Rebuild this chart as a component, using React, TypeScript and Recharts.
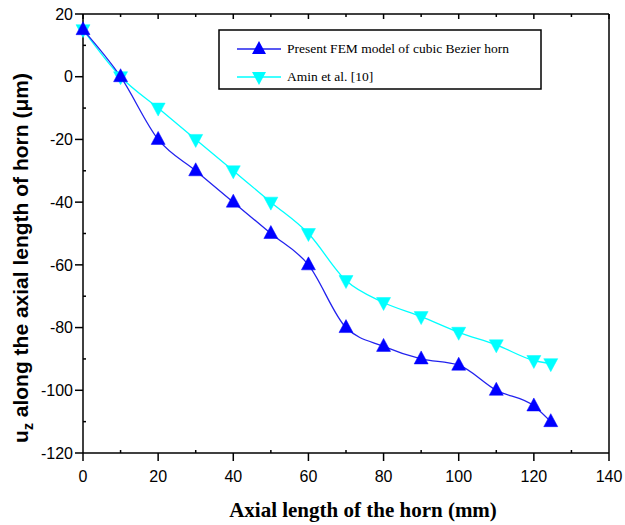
import React from 'react';
import { LineChart, Line, XAxis, YAxis } from 'recharts';

const axialPositions = [0, 10, 20, 30, 40, 50, 60, 70, 80, 90, 100, 110, 120, 124.5];
const femValues = [15, 0, -20, -30, -40, -50, -60, -80, -86, -90, -92, -100, -105, -110];
const aminValues = [15, 0, -10, -20, -30, -40, -50, -65, -72, -76.5, -81.5, -85.5, -90.5, -91.5];

const xTicks = [0, 10, 20, 30, 40, 50, 60, 70, 80, 90, 100, 110, 120, 130, 140];
const yTicks = [20, 10, 0, -10, -20, -30, -40, -50, -60, -70, -80, -90, -100, -110, -120];

const femName = 'Present FEM model of cubic Bezier horn';
const aminName = 'Amin et al. [10]';

const FEM_COLOR = '#0000ff';
const FEM_LINE = '#2222ee';
const AMIN_COLOR = '#00ffff';

const data = axialPositions.map((x, i) => ({ x, fem: femValues[i], amin: aminValues[i] }));

const SANS = "'Liberation Sans', Arial, sans-serif";
const SERIF = "'Liberation Serif', 'Times New Roman', serif";

const isMajor = (v: number) => Math.abs(v % 20) < 1e-9;

const LeftTick = (props: any) => {
  const { x, y, payload } = props;
  const major = isMajor(payload.value);
  return (
    <g>
      <line x1={x} x2={major ? x - 8 : x + 3} y1={y} y2={y} stroke="#000" strokeWidth={1.5} />
      {major && (
        <text x={x - 10} y={y} dy="0.36em" textAnchor="end" fontFamily={SANS} fontSize={16} fill="#000">
          {payload.value}
        </text>
      )}
    </g>
  );
};

const BottomTick = (props: any) => {
  const { x, y, payload } = props;
  const major = isMajor(payload.value);
  return (
    <g>
      <line x1={x} x2={x} y1={y} y2={major ? y + 8 : y - 3} stroke="#000" strokeWidth={1.5} />
      {major && (
        <text x={x} y={y + 29} textAnchor="middle" fontFamily={SANS} fontSize={16} fill="#000">
          {payload.value}
        </text>
      )}
    </g>
  );
};

const TopTick = (props: any) => {
  const { x, y, payload } = props;
  const major = isMajor(payload.value);
  return <line x1={x} x2={x} y1={y} y2={y + (major ? 5 : 3)} stroke="#000" strokeWidth={1.5} />;
};

const RightTick = (props: any) => {
  const { x, y, payload } = props;
  const major = isMajor(payload.value);
  return <line x1={x} x2={x - (major ? 5 : 3)} y1={y} y2={y} stroke="#000" strokeWidth={1.5} />;
};

const TriUp = (props: any) => {
  const { cx, cy } = props;
  if (cx == null || cy == null) return null;
  return <path d={`M${cx},${cy - 8} L${cx + 7},${cy + 5} L${cx - 7},${cy + 5} Z`} fill={FEM_COLOR} stroke={FEM_COLOR} strokeWidth={0.5} />;
};

const TriDown = (props: any) => {
  const { cx, cy } = props;
  if (cx == null || cy == null) return null;
  return <path d={`M${cx},${cy + 8} L${cx + 7},${cy - 5} L${cx - 7},${cy - 5} Z`} fill={AMIN_COLOR} stroke={AMIN_COLOR} strokeWidth={0.5} />;
};

const LegendBox = () => {
  const left = 219;
  const top = 30;
  const rows = [
    { name: femName, color: FEM_LINE, fill: FEM_COLOR, up: true, y: top + 19 },
    { name: aminName, color: AMIN_COLOR, fill: AMIN_COLOR, up: false, y: top + 47 },
  ];
  return (
    <g>
      <rect x={left} y={top} width={322} height={59} fill="#fff" stroke="#000" strokeWidth={1.5} />
      {rows.map((r) => {
        const mx = left + 40;
        return (
          <g key={r.name}>
            <line x1={left + 18} x2={left + 62} y1={r.y} y2={r.y} stroke={r.color} strokeWidth={1.5} />
            {r.up ? (
              <path d={`M${mx},${r.y - 8} L${mx + 7},${r.y + 5} L${mx - 7},${r.y + 5} Z`} fill={r.fill} />
            ) : (
              <path d={`M${mx},${r.y + 8} L${mx + 7},${r.y - 5} L${mx - 7},${r.y - 5} Z`} fill={r.fill} />
            )}
            <text x={left + 68} y={r.y} dy="0.33em" fontFamily={SERIF} fontSize={13.5} fill="#000">
              {r.name}
            </text>
          </g>
        );
      })}
    </g>
  );
};

const YLabel = () => (
  <text
    x={28}
    y={258}
    transform="rotate(-90 28 258)"
    textAnchor="middle"
    fontFamily={SANS}
    fontWeight="bold"
    fontSize={21}
    fill="#000"
  >
    u<tspan fontSize={14} dy={5}>z</tspan>
    <tspan dy={-5}> along the axial length of horn  (μm)</tspan>
  </text>
);

const XLabel = () => (
  <text x={363} y={517} textAnchor="middle" fontFamily={SERIF} fontWeight="bold" fontSize={21} fill="#000">
    Axial length of the horn (mm)
  </text>
);

export default function App() {
  const axisLine = { stroke: '#000', strokeWidth: 1.5 };
  return (
    <div style={{ position: 'absolute', left: 0, top: 0, background: '#fff' }}>
      <LineChart width={625} height={525} data={data} margin={{ top: 0, right: 0, bottom: 0, left: 0 }}>
        <XAxis
          dataKey="x"
          type="number"
          domain={[0, 140]}
          ticks={xTicks}
          interval={0}
          height={72}
          tickSize={0}
          tickMargin={0}
          tickLine={false}
          axisLine={axisLine}
          tick={<BottomTick />}
        />
        <XAxis
          xAxisId="top"
          orientation="top"
          dataKey="x"
          type="number"
          domain={[0, 140]}
          ticks={xTicks}
          interval={0}
          height={14}
          tickSize={0}
          tickMargin={0}
          tickLine={false}
          axisLine={axisLine}
          tick={<TopTick />}
        />
        <YAxis
          type="number"
          domain={[-120, 20]}
          ticks={yTicks}
          interval={0}
          width={83}
          tickSize={0}
          tickMargin={0}
          tickLine={false}
          axisLine={axisLine}
          tick={<LeftTick />}
        />
        <YAxis
          yAxisId="right"
          orientation="right"
          type="number"
          domain={[-120, 20]}
          ticks={yTicks}
          interval={0}
          width={16}
          tickSize={0}
          tickMargin={0}
          tickLine={false}
          axisLine={axisLine}
          tick={<RightTick />}
        />
        <Line
          type="monotone"
          dataKey="amin"
          name={aminName}
          stroke={AMIN_COLOR}
          strokeWidth={1.3}
          dot={<TriDown />}
          activeDot={false}
          isAnimationActive={false}
        />
        <Line
          type="monotone"
          dataKey="fem"
          name={femName}
          stroke={FEM_LINE}
          strokeWidth={1.3}
          dot={<TriUp />}
          activeDot={false}
          isAnimationActive={false}
        />
        <LegendBox />
        <YLabel />
        <XLabel />
      </LineChart>
    </div>
  );
}
